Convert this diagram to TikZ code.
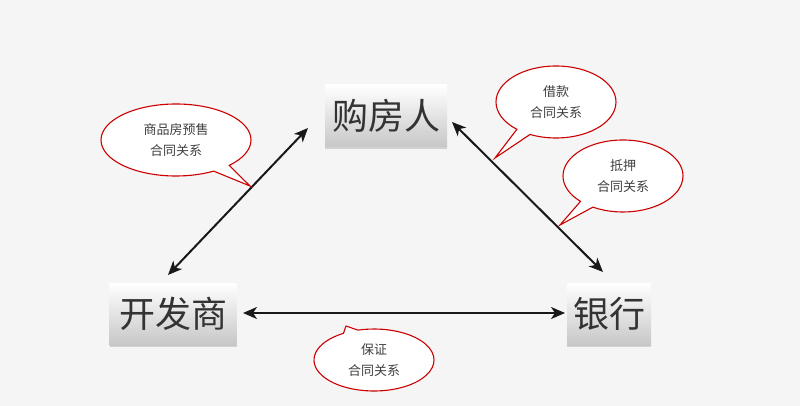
\documentclass[tikz,border=0pt]{standalone}
\usepackage{fontspec}
\newfontfamily\cjk{Noto Sans CJK SC}
\usetikzlibrary{shapes.callouts,arrows.meta,shadows}
\begin{document}
\begin{tikzpicture}[x=1pt,y=-1pt,
  party/.style={rectangle,top color=white,bottom color=black!22,draw=none,
    font=\cjk\fontsize{36}{40}\selectfont,text=black!80,inner xsep=6pt,
    minimum height=62pt,drop shadow={shadow xshift=0pt,shadow yshift=-2pt,opacity=0.3}},
  bubble/.style={ellipse callout,draw=red!80!black,line width=1.1pt,fill=white,
    font=\cjk\fontsize{13}{21}\selectfont,text=black!75,align=center,inner sep=0pt},
  rel/.style={{Stealth[length=14pt,width=12pt,inset=4pt]}-{Stealth[length=14pt,width=12pt,inset=4pt]},line width=2pt,black!90}]
\fill[black!4] (0,0) rectangle (800,406);
\useasboundingbox (0,0) rectangle (800,406);
\node[party,minimum width=122pt] (buyer) at (386,116) {购房人};
\node[party,minimum width=127pt] (dev) at (173,314) {开发商};
\node[party,minimum width=82pt] (bank) at (609,314) {银行};
\coordinate (bL) at (308,128); \coordinate (dT) at (168,275);
\coordinate (bR) at (452,122); \coordinate (kT) at (603,272);
\coordinate (dR) at (243,313); \coordinate (kL) at (565,313);
\draw[rel] (bL) -- (dT);
\draw[rel] (bR) -- (kT);
\draw[rel] (dR) -- (kL);
\node[bubble,minimum width=150pt,minimum height=72pt,callout absolute pointer={(250,186)}] (c1) at (176,140) {商品房预售\\合同关系};
\node[bubble,minimum width=120pt,minimum height=72pt,callout absolute pointer={(495,158)}] (c2) at (556,102) {借款\\合同关系};
\node[bubble,minimum width=120pt,minimum height=72pt,callout absolute pointer={(560,225)}] (c3) at (623,176) {抵押\\合同关系};
\node[bubble,minimum width=120pt,minimum height=62pt,callout absolute pointer={(346,326)}] (c4) at (374,360) {保证\\合同关系};
\end{tikzpicture}
\end{document}
